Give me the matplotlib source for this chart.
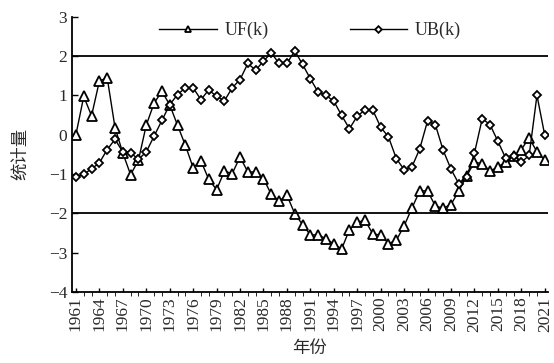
import matplotlib
matplotlib.use("Agg")
import matplotlib.pyplot as plt
from matplotlib.ticker import MultipleLocator

plt.rcParams['font.family'] = ['Liberation Serif', 'Noto Sans CJK SC']
plt.rcParams['axes.unicode_minus'] = True

years = list(range(1961, 2022))

# Mann-Kendall forward statistic
uf = [0.00, 0.97, 0.48, 1.36, 1.45, 0.18, -0.47, -1.02, -0.65, 0.24,
      0.80, 1.10, 0.76, 0.24, -0.27, -0.84, -0.67, -1.14, -1.40, -0.93,
      -0.99, -0.57, -0.95, -0.95, -1.12, -1.52, -1.69, -1.54, -2.01, -2.29,
      -2.55, -2.55, -2.65, -2.78, -2.91, -2.42, -2.23, -2.18, -2.53, -2.55,
      -2.77, -2.69, -2.32, -1.87, -1.43, -1.43, -1.82, -1.87, -1.78, -1.43,
      -1.05, -0.70, -0.74, -0.93, -0.82, -0.70, -0.55, -0.38, -0.08, -0.44,
      -0.65]

# Mann-Kendall backward statistic
ub = [-1.08, -1.01, -0.87, -0.72, -0.38, -0.12, -0.44, -0.46, -0.63, -0.44,
      -0.04, 0.36, 0.76, 1.02, 1.19, 1.19, 0.89, 1.14, 0.97, 0.86,
      1.19, 1.40, 1.81, 1.64, 1.87, 2.08, 1.81, 1.81, 2.13, 1.79,
      1.42, 1.08, 1.00, 0.85, 0.49, 0.15, 0.47, 0.63, 0.62, 0.19,
      -0.06, -0.61, -0.89, -0.82, -0.36, 0.35, 0.25, -0.40, -0.88, -1.25,
      -1.08, -0.47, 0.41, 0.25, -0.17, -0.60, -0.54, -0.70, -0.53, 1.00,
      -0.02]

crit = 2.0
xtick_years = list(range(1961, 2022, 3))
txt = '#2a2a2a'

fig = plt.figure(figsize=(5.54, 3.63), dpi=100)
ax = fig.add_axes([0.130, 0.196, 0.859, 0.758])

ax.plot(years, uf, color='black', lw=1.0, marker='^', ms=6.5,
        mfc='white', mec='black', mew=1.3, label='UF(k)')
ax.plot(years, ub, color='black', lw=1.0, marker='D', ms=4.5,
        mfc='white', mec='black', mew=1.3, label='UB(k)')

ax.axhline(crit, color='black', lw=1.3)
ax.axhline(-crit, color='black', lw=1.3)

ax.set_xlim(1960.5, 2021.4)
ax.set_ylim(-4, 3)
ax.set_xticks(xtick_years)
ax.set_xticklabels([str(y) for y in xtick_years], rotation=90)
ax.xaxis.set_minor_locator(MultipleLocator(1))
ax.yaxis.set_major_locator(MultipleLocator(1))

ax.tick_params(axis='both', direction='in', labelsize=12.5, width=1.0,
               labelcolor=txt)
ax.tick_params(axis='x', which='both', length=3)
ax.tick_params(axis='y', length=4)

for s in ['top', 'right']:
    ax.spines[s].set_visible(False)
for s in ['left', 'bottom']:
    ax.spines[s].set_linewidth(1.3)

ax.set_xlabel('年份', fontsize=12.5, labelpad=7, color=txt)
ax.set_ylabel('统计量', fontsize=12.5, labelpad=14, color=txt)

leg = ax.legend(loc='upper center', bbox_to_anchor=(0.5, 1.04), ncol=2,
                frameon=False, fontsize=13, handlelength=3.2, columnspacing=4.5,
                handletextpad=0.4, markerscale=0.75)
for t in leg.get_texts():
    t.set_color(txt)

fig.savefig('out.png', dpi=100)
